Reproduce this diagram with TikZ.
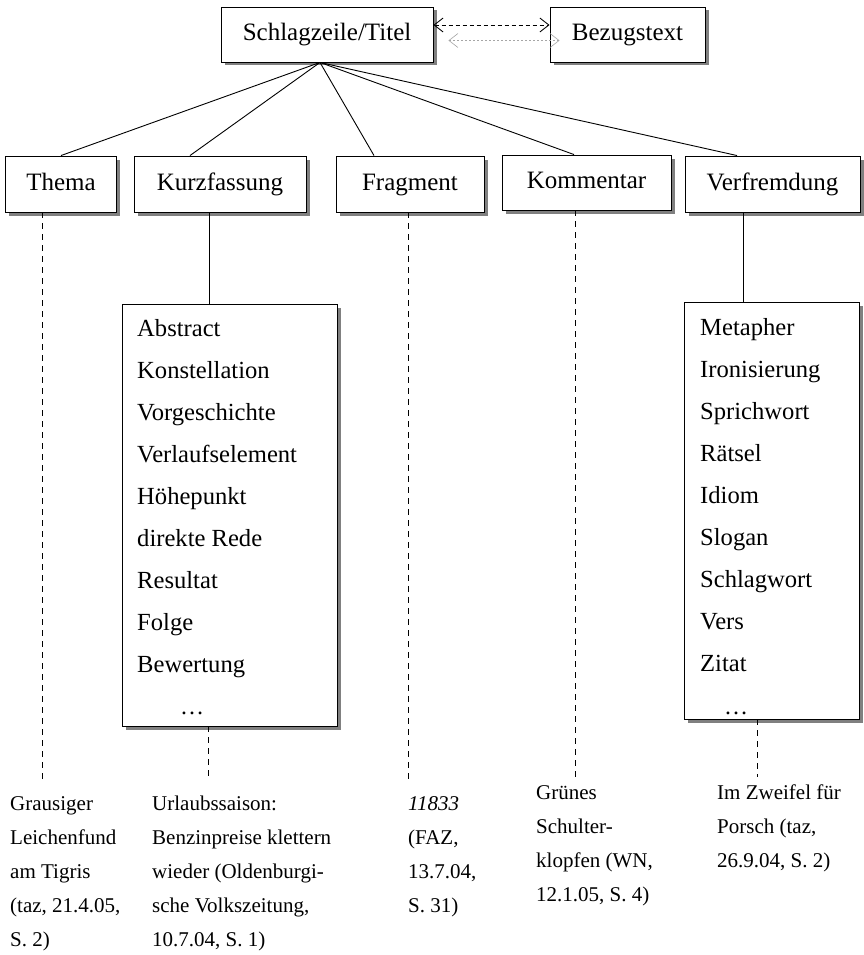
\documentclass[tikz,border=0pt]{standalone}
\usepackage{fontspec}
\setmainfont{Liberation Serif}
\usetikzlibrary{shadows,arrows.meta}
\begin{document}
\begin{tikzpicture}[x=1pt,y=-1pt,
  box/.style={draw, line width=0.9pt, fill=white, inner sep=0pt,
    drop shadow={shadow xshift=3.5pt, shadow yshift=-3.5pt, fill=black!50, opacity=1},
    font=\fontsize{25}{29}\selectfont, text height=17pt, text depth=5pt},
  conn/.style={line width=0.9pt},
  dashline/.style={line width=0.8pt, dash pattern=on 6pt off 5pt},
  item/.style={anchor=base west, inner sep=0pt, font=\fontsize{24.6}{28}\selectfont},
  dots/.style={anchor=base, inner sep=0pt, font=\fontsize{24}{28}\selectfont},
  ex/.style={anchor=base west, inner sep=0pt, font=\fontsize{21}{24}\selectfont},
  mybarb/.tip={Straight Barb[length=9pt,width=14pt]}]
\useasboundingbox (0,0) rectangle (864,955);
\fill[white] (0,0) rectangle (864,955);

% boxes
\node[box, minimum width=212pt, minimum height=55pt] (top) at (327,34.5) {Schlagzeile/Titel};
\node[box, minimum width=155pt, minimum height=55pt] (bez) at (627.5,34.5) {Bezugstext};
\node[box, minimum width=111pt, minimum height=56pt] (thema) at (61,184) {Thema};
\node[box, minimum width=172pt, minimum height=56pt] (kurz) at (220,184) {Kurzfassung};
\node[box, minimum width=148pt, minimum height=56pt] (frag) at (410,184) {Fragment};
\node[box, minimum width=169pt, minimum height=55pt] (komm) at (586.5,182.5) {Kommentar};
\node[box, minimum width=175pt, minimum height=56pt] (verf) at (772.5,184) {Verfremdung};
\node[box, minimum width=215pt, minimum height=422pt] (klist) at (229.5,515) {};
\node[box, minimum width=175pt, minimum height=417pt] (vlist) at (771.5,510.5) {};

% top arrows
\draw[line width=0.85pt, dash pattern=on 4pt off 3pt, mybarb-mybarb]
  ([yshift=9.5pt]top.east) -- ([yshift=9.5pt]bez.west);
\draw[black!35, line width=0.6pt, dash pattern=on 2pt off 2pt, mybarb-mybarb]
  ([xshift=15pt,yshift=-6pt]top.east) -- ([xshift=10pt,yshift=-6pt]bez.west);

% tree connectors
\coordinate (hub) at ([xshift=-7pt]top.south);
\draw[conn] (hub) -- (thema.north);
\draw[conn] (hub) -- ([xshift=-30pt]kurz.north);
\draw[conn] (hub) -- ([xshift=-36pt]frag.north);
\draw[conn] (hub) -- ([xshift=-12.5pt]komm.north);
\draw[conn] (hub) -- ([xshift=-35.5pt]verf.north);

% solid verticals
\coordinate (ka) at ([xshift=-11pt]kurz.south);
\draw[conn] (ka) -- (ka |- klist.north);
\coordinate (va) at ([xshift=-29.5pt]verf.south);
\draw[conn] (va) -- (va |- vlist.north);

% dashed verticals
\coordinate (ta) at ([xshift=-19pt]thema.south);
\coordinate (te) at (42,781);
\draw[dashline] (ta) -- (te);
\coordinate (kb) at ([xshift=-21.5pt]klist.south);
\coordinate (ke) at (208,781);
\draw[dashline] (kb) -- (ke);
\coordinate (fa) at ([xshift=-2pt]frag.south);
\coordinate (fe) at (408,781);
\draw[dashline] (fa) -- (fe);
\coordinate (ma) at ([xshift=-11.5pt]komm.south);
\coordinate (me) at (575,778);
\draw[dashline] (ma) -- (me);
\coordinate (vb) at ([xshift=-14.5pt]vlist.south);
\coordinate (ve) at (757,777);
\draw[dashline] (vb) -- (ve);

% Kurzfassung list
\node[item] (k1) at (137,336) {Abstract};
\node[item] (k2) at (137,378) {Konstellation};
\node[item] (k3) at (137,420) {Vorgeschichte};
\node[item] (k4) at (137,462) {Verlaufselement};
\node[item] (k5) at (137,504) {Höhepunkt};
\node[item] (k6) at (137,546) {direkte Rede};
\node[item] (k7) at (137,588) {Resultat};
\node[item] (k8) at (137,630) {Folge};
\node[item] (k9) at (137,672) {Bewertung};
\node[dots] (k10) at (192,714) {\ldots};

% Verfremdung list
\node[item] (v1) at (700,335) {Metapher};
\node[item] (v2) at (700,377) {Ironisierung};
\node[item] (v3) at (700,419) {Sprichwort};
\node[item] (v4) at (700,461) {Rätsel};
\node[item] (v5) at (700,503) {Idiom};
\node[item] (v6) at (700,545) {Slogan};
\node[item] (v7) at (700,587) {Schlagwort};
\node[item] (v8) at (700,629) {Vers};
\node[item] (v9) at (700,671) {Zitat};
\node[dots] (v10) at (736,714) {\ldots};

% examples
\node[ex] (a1) at (10,810) {Grausiger};
\node[ex] (a2) at (10,844) {Leichenfund};
\node[ex] (a3) at (10,878) {am Tigris};
\node[ex] (a4) at (10,912) {(taz, 21.4.05,};
\node[ex] (a5) at (10,946) {S. 2)};

\node[ex] (b1) at (152,810) {Urlaubssaison:};
\node[ex] (b2) at (152,844) {Benzinpreise klettern};
\node[ex] (b3) at (152,878) {wieder (Oldenburgi-};
\node[ex] (b4) at (152,912) {sche Volkszeitung,};
\node[ex] (b5) at (152,946) {10.7.04, S. 1)};

\node[ex] (c1) at (408,810) {\itshape 11833};
\node[ex] (c2) at (408,844) {(FAZ,};
\node[ex] (c3) at (408,878) {13.7.04,};
\node[ex] (c4) at (408,912) {S. 31)};

\node[ex] (d1) at (536,799) {Grünes};
\node[ex] (d2) at (536,833) {Schulter-};
\node[ex] (d3) at (536,867) {klopfen (WN,};
\node[ex] (d4) at (536,901) {12.1.05, S. 4)};

\node[ex] (e1) at (717,799) {Im Zweifel für};
\node[ex] (e2) at (717,833) {Porsch (taz,};
\node[ex] (e3) at (717,867) {26.9.04, S. 2)};
\end{tikzpicture}
\end{document}
